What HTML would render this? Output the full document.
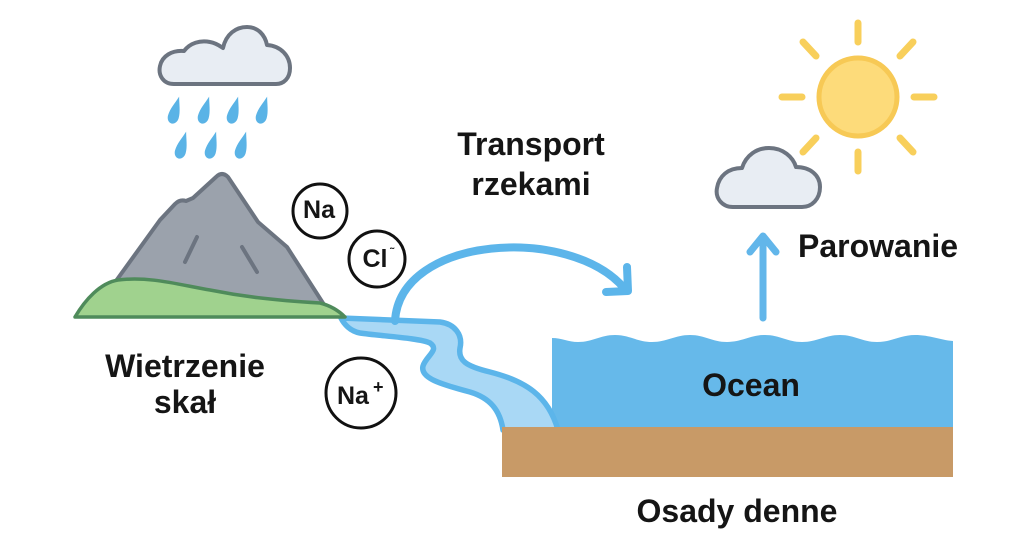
<!DOCTYPE html>
<html>
<head>
<meta charset="utf-8">
<style>
html,body{margin:0;padding:0;background:#fff;}
svg{display:block;}
text{font-family:"Liberation Sans",Arial,sans-serif;fill:#151515;}
.lbl{font-weight:bold;font-size:32px;}
.ion{font-size:25px;font-weight:bold;}
</style>
</head>
<body>
<svg width="1024" height="544" viewBox="0 0 1024 544" xmlns="http://www.w3.org/2000/svg">
  <rect width="1024" height="544" fill="#fff"/>

  <!-- Rain cloud -->
  <path d="M174 84 C163 84,158 75,160 66 C162 56,172 50,184 51 C190 43,200 40,210 42 C216 43,220 46,223 48 C226 34,236 27,247 27 C258 27,265 35,267 45 C281 46,290 56,290 68 C290 78,284 84,276 84 Z" fill="#E8EDF3" stroke="#6C7480" stroke-width="4" stroke-linejoin="round"/>

  <!-- Raindrops -->
  <g fill="#5AB3E6">
    <path transform="translate(175,111) rotate(16)" d="M0 -15 C2 -8,5.5 -1,5.5 6 C5.5 10,3 13,0 13 C-3 13,-5.5 10,-5.5 6 C-5.5 -1,-2 -8,0 -15 Z"/>
    <path transform="translate(205,111) rotate(16)" d="M0 -15 C2 -8,5.5 -1,5.5 6 C5.5 10,3 13,0 13 C-3 13,-5.5 10,-5.5 6 C-5.5 -1,-2 -8,0 -15 Z"/>
    <path transform="translate(234,111) rotate(16)" d="M0 -15 C2 -8,5.5 -1,5.5 6 C5.5 10,3 13,0 13 C-3 13,-5.5 10,-5.5 6 C-5.5 -1,-2 -8,0 -15 Z"/>
    <path transform="translate(263,111) rotate(16)" d="M0 -15 C2 -8,5.5 -1,5.5 6 C5.5 10,3 13,0 13 C-3 13,-5.5 10,-5.5 6 C-5.5 -1,-2 -8,0 -15 Z"/>
    <path transform="translate(182,146) rotate(16)" d="M0 -15 C2 -8,5.5 -1,5.5 6 C5.5 10,3 13,0 13 C-3 13,-5.5 10,-5.5 6 C-5.5 -1,-2 -8,0 -15 Z"/>
    <path transform="translate(212,146) rotate(16)" d="M0 -15 C2 -8,5.5 -1,5.5 6 C5.5 10,3 13,0 13 C-3 13,-5.5 10,-5.5 6 C-5.5 -1,-2 -8,0 -15 Z"/>
    <path transform="translate(242,146) rotate(16)" d="M0 -15 C2 -8,5.5 -1,5.5 6 C5.5 10,3 13,0 13 C-3 13,-5.5 10,-5.5 6 C-5.5 -1,-2 -8,0 -15 Z"/>
  </g>

  <!-- Ocean -->
  <path d="M552 338 C562 338,568 342,578 342 C593 342,600 335,615 335 C630 335,637 342,652 342 C667 342,675 335,690 335 C705 335,712 342,727 342 C742 342,750 335,765 335 C780 335,787 342,802 342 C817 342,825 335,840 335 C855 335,862 342,877 342 C892 342,900 335,915 335 C930 335,940 340,953 341 L953 430 L552 430 Z" fill="#66B9EA"/>

  <!-- River -->
  <path d="M341 318 L440 322 C455 324,463 335,460 348 C458 360,465 366,490 372 C525 381,548 395,558 430 L503 430 C500 410,490 398,470 392 C440 384,420 378,423 366 C426 356,440 350,430 343 C420 338,380 336,360 333 C350 331,344 324,341 318 Z" fill="#A9D8F5" stroke="#5CB5EA" stroke-width="5.5" stroke-linejoin="round"/>

  <!-- Sediment -->
  <rect x="502" y="427" width="451" height="50" fill="#C89A67"/>

  <!-- Arc arrow -->
  <path d="M395 321 C400 235,570 225,624 288" fill="none" stroke="#5CB5EA" stroke-width="8" stroke-linecap="round"/>
  <path d="M627 267 L628 291 L606 292" fill="none" stroke="#5CB5EA" stroke-width="8" stroke-linecap="round" stroke-linejoin="round"/>

  <!-- Mountain -->
  <path d="M108 292 L160 220 L175 204 Q180 199 186 201 L193 198 L216 177 Q222 171 228 177 L258 222 L287 247 L330 314 L108 314 Z" fill="#9BA2AC" stroke="#6C7480" stroke-width="4" stroke-linejoin="round"/>
  <path d="M197 237 L185 262 M242 247 L257 272" stroke="#6C7480" stroke-width="4" stroke-linecap="round"/>
  <path d="M75 317 C85 300,100 283,118 280 C150 276,180 285,210 290 C240 296,270 300,320 303 C332 306,340 312,345 317 Z" fill="#A0D28E" stroke="#4F8B5B" stroke-width="3.5" stroke-linejoin="round"/>

  <!-- Ions -->
  <circle cx="320" cy="211" r="27" fill="#fff" stroke="#111" stroke-width="3"/>
  <text class="ion" x="319" y="218" text-anchor="middle">Na</text>
  <circle cx="377" cy="259" r="28" fill="#fff" stroke="#111" stroke-width="3"/>
  <text class="ion" x="375" y="267" text-anchor="middle" font-size="26">Cl</text>
  <text x="390" y="256" font-size="12" font-weight="bold">˜</text>
  <circle cx="361" cy="393" r="35" fill="#fff" stroke="#111" stroke-width="3"/>
  <text class="ion" x="337" y="404" font-size="28">Na</text>
  <text x="373" y="393" font-size="18" font-weight="bold">+</text>

  <!-- Sun -->
  <g stroke="#F8CF5B" stroke-width="7" stroke-linecap="round">
    <line x1="858" y1="23" x2="858" y2="42"/>
    <line x1="858" y1="152" x2="858" y2="171"/>
    <line x1="782" y1="97" x2="802" y2="97"/>
    <line x1="914" y1="97" x2="934" y2="97"/>
    <line x1="803" y1="42" x2="816" y2="56"/>
    <line x1="913" y1="42" x2="900" y2="56"/>
    <line x1="803" y1="152" x2="816" y2="138"/>
    <line x1="913" y1="152" x2="900" y2="138"/>
  </g>
  <circle cx="858" cy="97" r="39" fill="#FDDB7A" stroke="#F7C955" stroke-width="5"/>

  <!-- Small cloud -->
  <path d="M733 207 C722 207,715 198,717 188 C719 176,728 168,742 168 C746 155,757 148,769 148 C783 148,793 157,796 167 C810 167,820 175,820 187 C820 199,812 207,802 207 Z" fill="#E8EDF3" stroke="#6C7480" stroke-width="4" stroke-linejoin="round"/>

  <!-- Evaporation arrow -->
  <path d="M763 318 L763 237" stroke="#62B6EA" stroke-width="7" stroke-linecap="round"/>
  <path d="M750 252 L763 236 L776 252" fill="none" stroke="#62B6EA" stroke-width="7" stroke-linecap="round" stroke-linejoin="round"/>

  <!-- Labels -->
  <text class="lbl" x="185" y="377" text-anchor="middle" font-size="33">Wietrzenie</text>
  <text class="lbl" x="185" y="413" text-anchor="middle" font-size="33">skał</text>
  <text class="lbl" x="531" y="155" text-anchor="middle">Transport</text>
  <text class="lbl" x="531" y="195" text-anchor="middle" font-size="33">rzekami</text>
  <text class="lbl" x="798" y="257">Parowanie</text>
  <text class="lbl" x="751" y="396" text-anchor="middle">Ocean</text>
  <text class="lbl" x="737" y="522" text-anchor="middle">Osady denne</text>
</svg>
</body>
</html>
